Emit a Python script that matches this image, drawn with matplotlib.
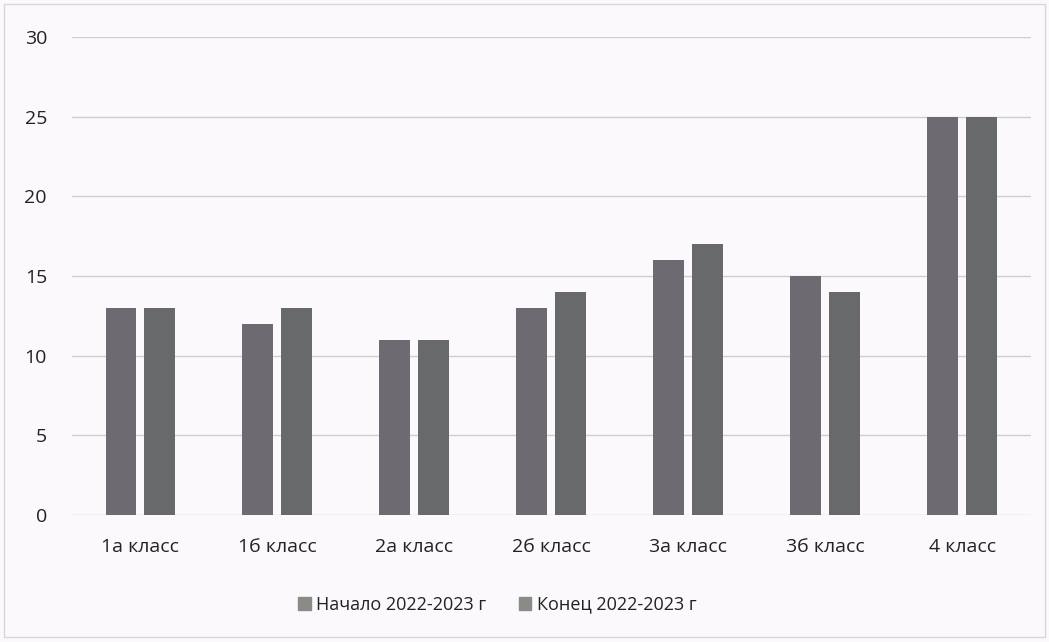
import matplotlib
matplotlib.use("Agg")
import matplotlib.pyplot as plt
import numpy as np

categories = ["1а класс", "1б класс", "2а класс", "2б класс", "3а класс", "3б класс", "4 класс"]
start_vals = [13, 12, 11, 13, 16, 15, 25]
end_vals = [13, 13, 11, 14, 17, 14, 25]
series_names = ["Начало 2022-2023 г", "Конец 2022-2023 г"]
yticks = [0, 5, 10, 15, 20, 25, 30]

plt.rcParams['font.family'] = ['Open Sans', 'DejaVu Sans']

fig = plt.figure(figsize=(10.49, 6.42), dpi=100)
fig.patch.set_facecolor("#fbf9fb")
ax = fig.add_axes([0.0686, 0.198, 0.914, 0.744])
ax.set_facecolor("#fbf9fb")

x = np.arange(len(categories))
w = 0.226
off = 0.142
c1 = "#6e6a72"
c2 = "#67696b"
ax.bar(x - off, start_vals, width=w, color=c1, label=series_names[0], zorder=3)
ax.bar(x + off, end_vals, width=w, color=c2, label=series_names[1], zorder=3)

ax.set_xlim(-0.5, len(categories) - 0.5)
ax.set_ylim(0, 30)
ax.set_yticks(yticks)
ax.set_yticklabels([str(t) for t in yticks], fontsize=14, color="#222222")
ax.set_xticks(x)
ax.set_xticklabels(categories, fontsize=14, color="#222222")
ax.tick_params(axis="both", length=0)
ax.tick_params(axis="y", pad=18)
ax.tick_params(axis="x", pad=17)
ax.grid(axis="y", color="#cfcdd0", linewidth=1, zorder=0)
for s in ax.spines.values():
    s.set_visible(False)

handles, labels = ax.get_legend_handles_labels()
leg = fig.legend(handles, labels, loc="center", bbox_to_anchor=(0.474, 0.058), ncol=2,
                 frameon=False, fontsize=13, handlelength=0.7, handleheight=0.7,
                 handletextpad=0.3, columnspacing=1.8, labelcolor="#222222")
for h in leg.legend_handles:
    h.set_color("#8a8a86")

fig.add_artist(plt.Rectangle((0.004, 0.008), 0.992, 0.985, transform=fig.transFigure,
                             fill=False, edgecolor="#d8d6d8", linewidth=1))

fig.savefig("out.png", dpi=100, facecolor=fig.get_facecolor())
